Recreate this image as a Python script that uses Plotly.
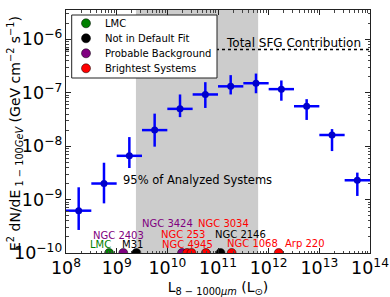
import plotly.graph_objects as go

# ---- data ----
L_CENTER = [1.78e8, 5.62e8, 1.78e9, 5.62e9, 1.78e10, 5.62e10, 1.78e11, 5.62e11,
            1.78e12, 5.62e12, 1.78e13, 5.62e13]
BIN_LOW = [1.0e8, 3.16e8, 1.0e9, 3.16e9, 1.0e10, 3.16e10, 1.0e11, 3.16e11,
           1.0e12, 3.16e12, 1.0e13, 3.16e13]
BIN_HIGH = [3.16e8, 1.0e9, 3.16e9, 1.0e10, 3.16e10, 1.0e11, 3.16e11, 1.0e12,
            3.16e12, 1.0e13, 3.16e13, 1.0e14]
FLUX = [6.2e-10, 2.0e-9, 6.6e-9, 2.0e-8, 5.0e-8, 9.3e-8, 1.32e-7, 1.51e-7,
        1.17e-7, 5.6e-8, 1.62e-8, 2.3e-9]
FLUX_HIGH = [1.70e-9, 4.9e-9, 1.48e-8, 4.07e-8, 9.3e-8, 1.58e-7, 2.14e-7, 2.29e-7,
             1.70e-7, 7.6e-8, 2.09e-8, 3.2e-9]
FLUX_LOW = [2.7e-10, 8.5e-10, 3.9e-9, 9.8e-9, 3.5e-8, 5.2e-8, 9.3e-8, 9.8e-8,
            7.1e-8, 3.1e-8, 8.1e-9, 1.17e-9]

SFG_TOTAL = 6.45e-7
SHADE_RANGE = [2.4e9, 6.2e11]
BOTTOM_FLUX = 1e-10

LMC_NAMES = ["LMC"]
LMC_L = [7.1e8]
NODEF_NAMES = ["M31", "NGC 2146"]
NODEF_L = [2.45e9, 1.12e11]
BKG_NAMES = ["NGC 2403", "NGC 3424"]
BKG_L = [1.35e9, 1.95e10]
BRIGHT_NAMES = ["NGC 253", "NGC 4945", "NGC 3034", "NGC 1068", "Arp 220"]
BRIGHT_L = [2.45e10, 3.0e10, 5.75e10, 1.86e11, 1.58e12]

GREEN, BLACK, PURPLE, RED = "#008000", "#000000", "#800080", "#ff0000"
FONT = "DejaVu Sans"

W, H = 390, 297
ML, MR, MT, MB = 66, 20, 10, 44
PW, PH = W - ML - MR, H - MT - MB


def px_to_paper(px, py):
    return (px - ML) / PW, (H - MB - py) / PH


fig = go.Figure()

# shaded region
fig.add_shape(type="rect", xref="x", yref="paper", x0=SHADE_RANGE[0], x1=SHADE_RANGE[1],
              y0=0, y1=1, fillcolor="#cccccc", line_width=0, layer="below")
# total SFG line
fig.add_shape(type="line", xref="paper", yref="y", x0=0, x1=1, y0=SFG_TOTAL, y1=SFG_TOTAL,
              line=dict(color="black", width=1.6, dash="dot"), layer="above")

# binned data
fig.add_trace(go.Scatter(
    x=L_CENTER, y=FLUX, mode="markers", showlegend=False,
    marker=dict(color="#0000cc", size=7),
    error_x=dict(type="data", symmetric=False,
                 array=[h - c for h, c in zip(BIN_HIGH, L_CENTER)],
                 arrayminus=[c - l for c, l in zip(L_CENTER, BIN_LOW)],
                 color="#0000ff", thickness=2.5, width=0),
    error_y=dict(type="data", symmetric=False,
                 array=[h - f for h, f in zip(FLUX_HIGH, FLUX)],
                 arrayminus=[f - l for f, l in zip(FLUX, FLUX_LOW)],
                 color="#0000ff", thickness=2.5, width=0),
))

groups = [("LMC", LMC_L, GREEN), ("Not in Default Fit", NODEF_L, BLACK),
          ("Probable Background", BKG_L, PURPLE), ("Brightest Systems", BRIGHT_L, RED)]
for name, xs, col in groups:
    fig.add_trace(go.Scatter(x=xs, y=[BOTTOM_FLUX] * len(xs), mode="markers", name=name,
                             showlegend=False,
                             marker=dict(color=col, size=9, line=dict(width=0.5, color="black"))))

# legend box drawn over the plot (compact, like the reference)
lx0, ly0 = px_to_paper(71.7, 78)
lx1, ly1 = px_to_paper(217, 15)
fig.add_shape(type="rect", xref="paper", yref="paper", x0=lx0, x1=lx1, y0=ly0, y1=ly1,
              fillcolor="white", line=dict(color="#222", width=1), layer="above")
for i, (name, xs, col) in enumerate(groups):
    row_y = 23.3 + 15 * i
    mx, my = px_to_paper(86, row_y)
    fig.add_shape(type="circle", xref="paper", yref="paper", xsizemode="pixel", ysizemode="pixel",
                  xanchor=mx, yanchor=my, x0=-4.5, x1=4.5, y0=-4.5, y1=4.5,
                  fillcolor=col, line=dict(color="black", width=0.5), layer="above")
    tx, ty = px_to_paper(103, row_y)
    fig.add_annotation(x=tx, y=ty, xref="paper", yref="paper", text=name, showarrow=False,
                       xanchor="left", yanchor="middle", font=dict(family=FONT, size=10, color="black"))

# source labels: (name, color, log x of label center, pixel y of label center)
label_pos = [
    ("LMC", GREEN, 8.671, 244), ("NGC 2403", PURPLE, 9.036, 235), ("M31", BLACK, 9.312, 244),
    ("NGC 3424", PURPLE, 10.0, 223.3), ("NGC 253", RED, 10.31, 234), ("NGC 4945", RED, 10.39, 244.3),
    ("NGC 3034", RED, 11.10, 223.3), ("NGC 2146", BLACK, 11.44, 234), ("NGC 1068", RED, 11.68, 243.5),
    ("Arp 220", RED, 12.72, 243.5),
]
for txt, col, lx, py in label_pos:
    fig.add_annotation(x=lx, y=px_to_paper(0, py)[1], xref="x", yref="paper",
                       text=txt, showarrow=False, font=dict(family=FONT, size=10, color=col),
                       xanchor="center", yanchor="middle")

fig.add_annotation(x=10.60, y=-8.63, xref="x", yref="y", text="95% of Analyzed Systems",
                   showarrow=False, font=dict(family=FONT, size=11.5, color="black"))
fig.add_annotation(x=12.49, y=-6.073, xref="x", yref="y", text="Total SFG Contribution",
                   showarrow=False, font=dict(family=FONT, size=12, color="black"))

# y-axis title as rotated text, placed like the reference
tx, ty = px_to_paper(15, 134)
fig.add_annotation(x=tx, y=ty, xref="paper", yref="paper", textangle=-90, showarrow=False,
                   xanchor="center", yanchor="middle",
                   text="E<sup>2</sup> dN/dE<sub> 1 − 100<i>GeV</i></sub> (GeV cm<sup>−2</sup> s<sup>−1</sup>)",
                   font=dict(family=FONT, size=14, color="black"))

axis_common = dict(type="log", showline=True, linecolor="#222", linewidth=1, mirror="allticks",
                   ticks="inside", ticklen=5, tickcolor="#222", dtick=1, exponentformat="power",
                   showgrid=False, zeroline=False, automargin=False,
                   tickfont=dict(family=FONT, size=14, color="black"),
                   minor=dict(ticks="inside", ticklen=2.5, tickcolor="#444", dtick="D1", showgrid=False))

fig.update_layout(
    width=W, height=H, margin=dict(l=ML, r=MR, t=MT, b=MB),
    paper_bgcolor="white", plot_bgcolor="white", showlegend=False,
    font=dict(family=FONT, size=14, color="black"),
    xaxis=dict(range=[8, 14], title=dict(text="L<sub>8 − 1000<i>μm</i></sub> (L<sub>⊙</sub>)",
                                         font=dict(size=14), standoff=4), **axis_common),
    yaxis=dict(range=[-10, -5.45], **axis_common),
)

fig.write_html("out.html", config={"displayModeBar": False},
               post_script="document.body.style.margin='0';document.body.style.overflow='hidden';")
